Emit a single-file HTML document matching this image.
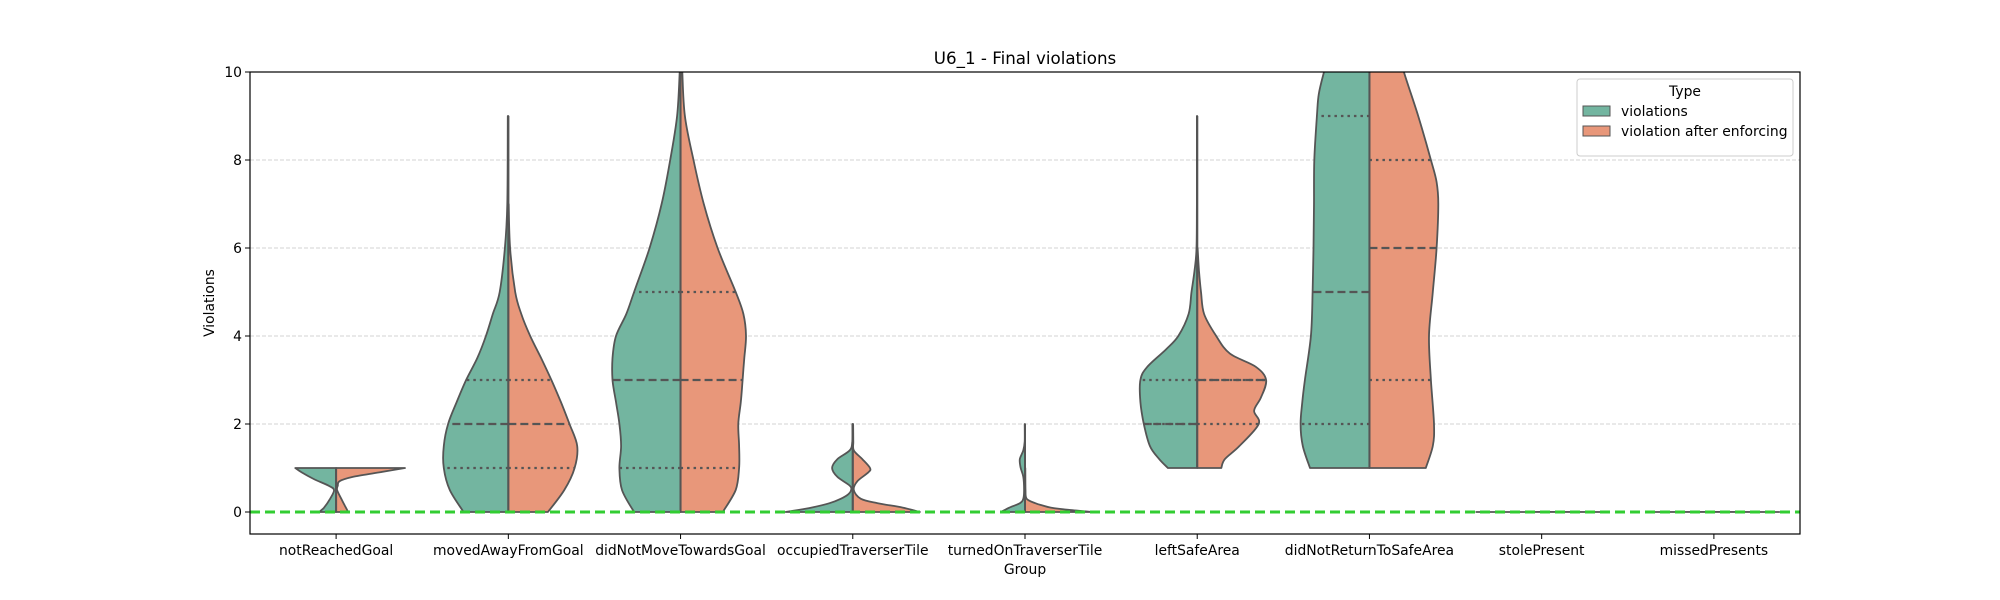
<!DOCTYPE html>
<html><head><meta charset="utf-8"><title>U6_1 - Final violations</title>
<style>
html,body{margin:0;padding:0;background:#fff;}
svg{display:block;font-family:"DejaVu Sans","Liberation Sans",sans-serif;}
</style></head>
<body>
<svg id="chart" width="2000" height="600" viewBox="0 0 2000 600" xmlns="http://www.w3.org/2000/svg">
<defs><clipPath id="plotclip"><rect x="250" y="72" width="1550" height="462"/></clipPath></defs>
<rect x="0" y="0" width="2000" height="600" fill="#fff"/>
<g id="grid"></g>
<g id="violins" clip-path="url(#plotclip)"></g>
<g id="axes"></g>
<text x="1025" y="64" text-anchor="middle" font-size="16.7">U6_1 - Final violations</text>
<text x="0" y="0" transform="translate(214,303) rotate(-90)" text-anchor="middle" font-size="13.9">Violations</text>
<text x="1025" y="574" text-anchor="middle" font-size="13.9">Group</text>
<g id="legend">
<rect x="1577" y="79" width="216" height="77" rx="3" fill="#fff" fill-opacity="0.8" stroke="#ccc"/>
<text x="1685" y="96" text-anchor="middle" font-size="13.9">Type</text>
<g>
<rect x="1583" y="106" width="27" height="10" fill="#73b5a0" stroke="#555"/>
<text x="1621" y="116" font-size="13.9">violations</text></g>
<g>
<rect x="1583" y="126" width="27" height="10" fill="#e8977a" stroke="#555"/>
<text x="1621" y="136" font-size="13.9">violation after enforcing</text></g>
</g>
</svg>
<script>
const categories = ["notReachedGoal","movedAwayFromGoal","didNotMoveTowardsGoal","occupiedTraverserTile","turnedOnTraverserTile","leftSafeArea","didNotReturnToSafeArea","stolePresent","missedPresents"];
const yTicks = [0,2,4,6,8,10];
const gridValues = [2,4,6,8,10];
// density profiles: [value, half-width in category units]
const violationsProfile = [
 [[0,0.10],[0.1,0.07],[0.3,0.035],[0.5,0.012],[0.6,0.045],[0.75,0.13],[0.9,0.2],[1,0.237]],
 [[0,0.26],[0.5,0.34],[1,0.375],[1.5,0.375],[2,0.35],[2.5,0.3],[3,0.245],[3.5,0.18],[4,0.13],[4.5,0.09],[5,0.05],[6,0.02],[7,0.006],[9,0.003]],
 [[0,0.27],[0.5,0.34],[1,0.355],[1.5,0.345],[2,0.355],[2.5,0.375],[3,0.395],[3.5,0.395],[4,0.375],[4.5,0.315],[5,0.27],[6,0.18],[7,0.11],[8,0.06],[9,0.02],[10,0.005]],
 [[0,0.39],[0.1,0.24],[0.2,0.135],[0.3,0.07],[0.4,0.027],[0.5,0.01],[0.6,0.018],[0.8,0.09],[1,0.12],[1.2,0.09],[1.4,0.018],[1.6,0.003],[2,0.002]],
 [[0,0.14],[0.1,0.09],[0.2,0.03],[0.3,0.01],[0.5,0.005],[0.8,0.01],[1,0.025],[1.2,0.03],[1.4,0.01],[1.6,0.002],[2,0.002]],
 [[1,0.17],[1.2,0.22],[1.5,0.275],[2,0.31],[2.5,0.33],[3,0.33],[3.3,0.29],[3.7,0.18],[4,0.11],[4.5,0.05],[5,0.033],[5.5,0.015],[6,0.004],[7,0.002],[9,0.002]],
 [[1,0.345],[1.5,0.387],[2,0.4],[2.5,0.39],[3,0.375],[4,0.34],[5,0.33],[6,0.325],[7,0.322],[8,0.32],[9,0.305],[9.5,0.294],[10,0.264],[10.6,0.22]],
 [[0,0.38],[0.001,0.38]],
 [[0,0.38],[0.001,0.38]]
];
const afterEnforcingProfile = [
 [[0,0.07],[0.15,0.05],[0.3,0.03],[0.5,0.006],[0.6,0.01],[0.7,0.02],[0.8,0.1],[0.9,0.25],[1,0.40]],
 [[0,0.23],[0.5,0.325],[1,0.385],[1.5,0.40],[2,0.355],[2.5,0.305],[3,0.25],[3.5,0.19],[4,0.127],[4.5,0.075],[5,0.04],[6,0.01],[7,0.002]],
 [[0,0.245],[0.5,0.32],[1,0.34],[1.5,0.34],[2,0.335],[2.5,0.35],[3,0.36],[3.5,0.37],[4,0.38],[4.5,0.365],[5,0.32],[6,0.215],[7,0.135],[8,0.075],[9,0.025],[10,0.01]],
 [[0,0.39],[0.1,0.29],[0.2,0.145],[0.3,0.047],[0.5,0.006],[0.7,0.027],[0.9,0.09],[1,0.1],[1.2,0.056],[1.4,0.006],[1.6,0.003],[2,0.002]],
 [[0,0.39],[0.05,0.25],[0.1,0.15],[0.15,0.1],[0.2,0.06],[0.3,0.01],[0.5,0.003],[1,0.002]],
 [[1,0.14],[1.2,0.16],[1.5,0.245],[2,0.357],[2.3,0.33],[2.6,0.37],[3,0.40],[3.3,0.34],[3.6,0.19],[4,0.11],[4.5,0.04],[5,0.022],[5.5,0.01],[6,0.002]],
 [[1,0.327],[1.5,0.368],[2,0.375],[3,0.357],[4,0.346],[5,0.368],[6,0.39],[7,0.40],[7.5,0.39],[8,0.357],[9,0.283],[10,0.2],[10.6,0.16]],
 [[0,0.38],[0.001,0.38]],
 [[0,0.38],[0.001,0.38]]
];
// quartiles: [q1, median, q3] (null = not drawn)
const violationsQuartiles = [[null,null,null],[1,2,3],[1,3,5],[null,null,null],[null,null,null],[2,2,3],[2,5,9],[null,null,null],[null,null,null]];
const afterEnforcingQuartiles = [[null,null,null],[1,2,3],[1,3,5],[null,null,null],[null,null,null],[2,3,3],[3,6,8],[null,null,null],[null,null,null]];
const referenceLine = 0;

const NS="http://www.w3.org/2000/svg";
const L=250,R=1800,T=72,B=534,YMIN=-0.5,YMAX=10;
const band=(R-L)/categories.length;
const xScale=i=>L+band*(i+0.5);
const yScale=v=>T+(YMAX-v)/(YMAX-YMIN)*(B-T);
const wScale=w=>w*band;
function mk(tag,attrs,parent){const e=document.createElementNS(NS,tag);for(const k in attrs)e.setAttribute(k,attrs[k]);parent.appendChild(e);return e;}
function widthAt(prof,v){for(let i=0;i<prof.length-1;i++){const a=prof[i],b=prof[i+1];if(v>=a[0]&&v<=b[0]){const t=(v-a[0])/(b[0]-a[0]||1);return a[1]+t*(b[1]-a[1]);}}return 0;}
const grid=document.getElementById('grid');
gridValues.forEach(v=>{const l=mk('line',{x1:L,x2:R,y1:yScale(v),y2:yScale(v),stroke:'#d3d3d3','stroke-width':1,'stroke-dasharray':'4,2'},grid);

});
const vg=document.getElementById('violins');
function smoothPath(pts){
 let d='';
 for(let i=0;i<pts.length-1;i++){
  const p0=pts[Math.max(0,i-1)],p1=pts[i],p2=pts[i+1],p3=pts[Math.min(pts.length-1,i+2)];
  const c1=[p1[0]+(p2[0]-p0[0])/6,p1[1]+(p2[1]-p0[1])/6];
  const c2=[p2[0]-(p3[0]-p1[0])/6,p2[1]-(p3[1]-p1[1])/6];
  d+='C'+c1[0].toFixed(1)+','+c1[1].toFixed(1)+' '+c2[0].toFixed(1)+','+c2[1].toFixed(1)+' '+p2[0].toFixed(1)+','+p2[1].toFixed(1)+' ';
 }
 return d;
}
function drawHalf(i,prof,side,fill,name){
 const cx=xScale(i);const pts=[];
 prof.forEach(p=>pts.push([cx+side*wScale(p[1]),yScale(p[0])]));
 const top=prof[prof.length-1],bot=prof[0];
 let d='M'+cx+','+yScale(bot[0])+' L'+pts[0][0].toFixed(1)+','+pts[0][1].toFixed(1)+' ';
 d+=smoothPath(pts);
 d+='L'+cx+','+yScale(top[0])+' Z';
 const p=mk('path',{d:d,fill:fill,stroke:'#555','stroke-width':1.8,'stroke-linejoin':'round'},vg);
 
 
}
function drawQuart(i,prof,side,q,name){
 const cx=xScale(i);
 q.forEach((v,k)=>{if(v===null)return;const w=wScale(widthAt(prof,v));
  const l=mk('line',{x1:cx,x2:cx+side*w,y1:yScale(v),y2:yScale(v),stroke:'#555','stroke-width':2.2,'stroke-dasharray':k===1?'8,4':'2.5,4'},vg);
  
  });
}
categories.forEach((c,i)=>{
 drawHalf(i,violationsProfile[i],-1,'#73b5a0','violin-violations-'+c);
 drawHalf(i,afterEnforcingProfile[i],1,'#e8977a','violin-after-enforcing-'+c);
 drawQuart(i,violationsProfile[i],-1,violationsQuartiles[i],'violations-'+c);
 drawQuart(i,afterEnforcingProfile[i],1,afterEnforcingQuartiles[i],'after-enforcing-'+c);
 const cx=xScale(i);
 const lo=Math.min(violationsProfile[i][0][0],afterEnforcingProfile[i][0][0]);
 const hi=Math.max(violationsProfile[i][violationsProfile[i].length-1][0],afterEnforcingProfile[i][afterEnforcingProfile[i].length-1][0]);
 const m=mk('line',{x1:cx,x2:cx,y1:yScale(lo),y2:yScale(hi),stroke:'#555','stroke-width':2},vg);
 
 
});
const ref=mk('line',{x1:L,x2:R,y1:yScale(referenceLine),y2:yScale(referenceLine),stroke:'#32cd32','stroke-width':3,'stroke-dasharray':'10,5'},vg);


const ax=document.getElementById('axes');
const fr=mk('rect',{x:L,y:T,width:R-L,height:B-T,fill:'none',stroke:'#000','stroke-width':1.2},ax);


yTicks.forEach(v=>{const y=yScale(v);
 const t=mk('line',{x1:L-5,x2:L,y1:y,y2:y,stroke:'#000','stroke-width':1},ax);
 
 
 const tx=mk('text',{x:L-8,y:y+5,'text-anchor':'end','font-size':13.9},ax);tx.textContent=v;
 
 });
categories.forEach((c,i)=>{const x=xScale(i);
 const t=mk('line',{x1:x,x2:x,y1:B,y2:B+5,stroke:'#000','stroke-width':1},ax);
 
 
 const tx=mk('text',{x:x,y:B+21,'text-anchor':'middle','font-size':13.9},ax);tx.textContent=c;
 
 });
</script>
</body></html>
